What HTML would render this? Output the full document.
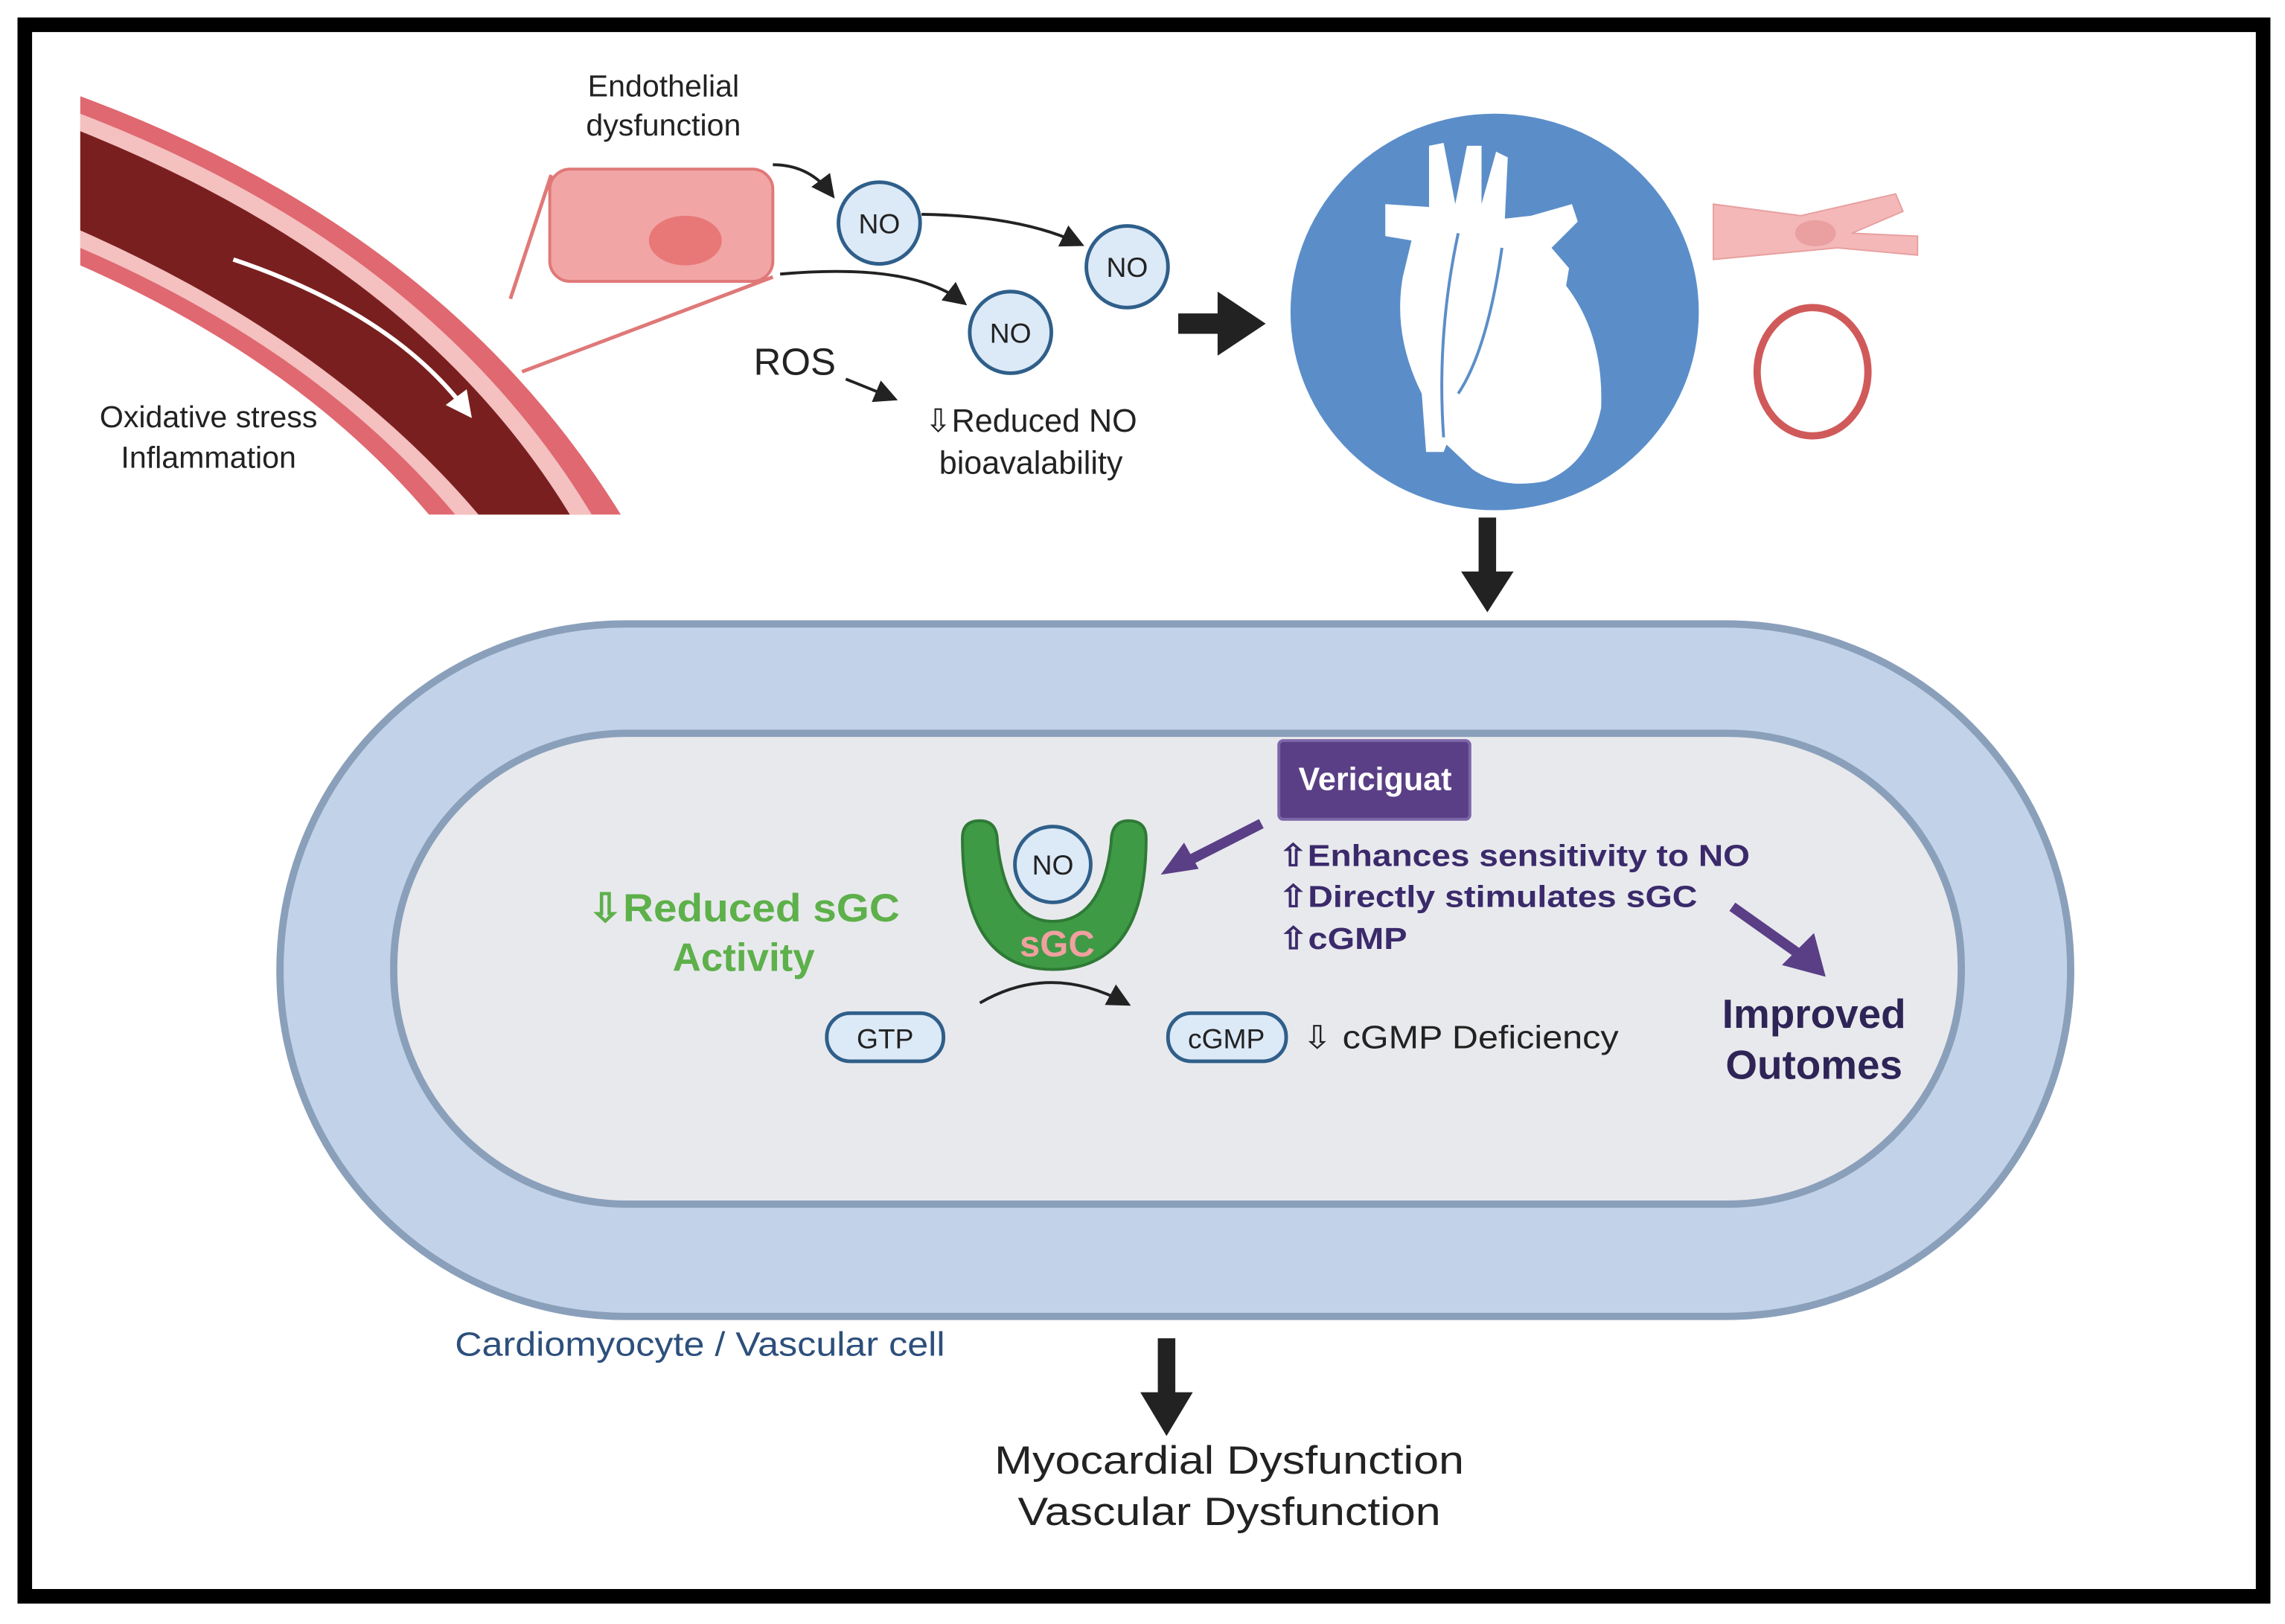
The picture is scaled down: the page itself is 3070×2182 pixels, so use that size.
<!DOCTYPE html>
<html><head><meta charset="utf-8"><style>
html,body{margin:0;padding:0;background:#fff}
svg{display:block}
text{font-family:"Liberation Sans",sans-serif}
</style></head><body>
<svg width="3070" height="2182" viewBox="0 0 1567 1114" preserveAspectRatio="none" xmlns="http://www.w3.org/2000/svg">
<defs>
<marker id="ah" markerWidth="8" markerHeight="8" refX="6" refY="4" orient="auto" markerUnits="strokeWidth"><path d="M0,0 L8,4 L0,8 Z" fill="#222"/></marker>
<marker id="ahw" markerWidth="6" markerHeight="6" refX="4" refY="3" orient="auto" markerUnits="strokeWidth"><path d="M0,0 L6,3 L0,6 Z" fill="#fff"/></marker>
</defs>
<rect x="0" y="0" width="1567" height="1114" fill="#fff"/>
<rect x="17" y="17" width="1535" height="1078" fill="none" stroke="#000" stroke-width="10"/>

<!-- vessel -->
<clipPath id="vc"><rect x="55" y="60" width="375" height="293"/></clipPath>
<g clip-path="url(#vc)">
<path d="M55,66 Q310,160 430,360 L300,360 Q210,250 55,182 Z" fill="#e06870"/>
<path d="M55,78 Q300,172 410,360 L318,360 Q222,242 55,170 Z" fill="#f4c0c0"/>
<path d="M55,90 Q292,185 395,360 L334,360 Q232,236 55,158 Z" fill="#7a1f1f"/>
</g>
<path d="M160,178 Q270,215 320,282" fill="none" stroke="#fff" stroke-width="3" marker-end="url(#ahw)"/>
<text x="143" y="293" font-size="21" text-anchor="middle" fill="#222">Oxidative stress</text>
<text x="143" y="321" font-size="21" text-anchor="middle" fill="#222">Inflammation</text>

<!-- zoom lines and cell -->
<line x1="350" y1="205" x2="378" y2="120" stroke="#e07878" stroke-width="2.5"/>
<line x1="358" y1="255" x2="530" y2="190" stroke="#e07878" stroke-width="2.5"/>
<rect x="377" y="116" width="153" height="77" rx="14" fill="#f2a5a5" stroke="#e07878" stroke-width="2"/>
<ellipse cx="470" cy="165" rx="25" ry="17" fill="#e87878"/>
<text x="455" y="66" font-size="21" text-anchor="middle" fill="#222">Endothelial</text>
<text x="455" y="93" font-size="21" text-anchor="middle" fill="#222">dysfunction</text>

<!-- NO arrows -->
<path d="M530,113 Q555,113 570,133" fill="none" stroke="#222" stroke-width="2" marker-end="url(#ah)"/>
<path d="M632,147 Q700,148 740,167" fill="none" stroke="#222" stroke-width="2" marker-end="url(#ah)"/>
<path d="M535,188 Q625,180 660,207" fill="none" stroke="#222" stroke-width="2" marker-end="url(#ah)"/>
<g fill="#dce9f7" stroke="#2f5f8a" stroke-width="2.5">
<circle cx="603" cy="153" r="28"/><circle cx="773" cy="183" r="28"/><circle cx="693" cy="228" r="28"/>
</g>
<g font-size="19" text-anchor="middle" fill="#222">
<text x="603" y="160">NO</text><text x="773" y="190">NO</text><text x="693" y="235">NO</text>
</g>
<text x="545" y="257" font-size="26" text-anchor="middle" fill="#222">ROS</text>
<path d="M580,260 Q600,268 612,273" fill="none" stroke="#222" stroke-width="2" marker-end="url(#ah)"/>
<text x="707" y="296" font-size="22" text-anchor="middle" fill="#222">⇩Reduced NO</text>
<text x="707" y="325" font-size="22" text-anchor="middle" fill="#222">bioavalability</text>

<!-- big arrow right -->
<path d="M808,215 L835,215 L835,200 L868,222 L835,244 L835,229 L808,229 Z" fill="#222"/>

<!-- heart circle -->
<ellipse cx="1025" cy="214" rx="140" ry="136" fill="#5b8ec9"/>
<path d="M980,100 L990,98 L998,140 L1006,100 L1016,100 L1016,140 L1026,104 L1034,108 L1032,150 L1050,148 L1078,140 L1082,152 L1064,170 L1076,184 L1074,196 Q1100,230 1098,280 Q1090,318 1060,330 Q1030,336 1010,322 L992,305 L990,310 L978,310 L975,270 Q955,230 962,190 L968,165 L950,162 L950,140 L980,142 Z" fill="#fff"/>
<path d="M1000,160 Q985,230 990,300 M1030,170 Q1020,240 1000,270" fill="none" stroke="#5b8ec9" stroke-width="2"/>

<!-- myocyte & vessel ring -->
<path d="M1175,140 L1235,148 L1300,133 L1305,145 L1270,160 L1315,162 L1315,175 L1260,170 L1175,178 Z" fill="#f4b8b8" stroke="#e8a0a0" stroke-width="1"/>
<ellipse cx="1245" cy="160" rx="14" ry="9" fill="#eaa0a0"/>
<ellipse cx="1243" cy="255" rx="38" ry="44" fill="none" stroke="#d05a5a" stroke-width="5"/>

<!-- down arrow -->
<path d="M1014,355 L1026,355 L1026,392 L1038,392 L1020,420 L1002,392 L1014,392 Z" fill="#222"/>

<!-- capsule -->
<rect x="192" y="428" width="1228" height="475" rx="237" fill="#c2d3e9" stroke="#8a9fba" stroke-width="5"/>
<rect x="270" y="503" width="1075" height="323" rx="160" fill="#e8e9ed" stroke="#8a9fba" stroke-width="5"/>

<!-- vericiguat -->
<rect x="877" y="508" width="131" height="54" rx="3" fill="#5a3f86" stroke="#7d66a8" stroke-width="2"/>
<text x="943" y="542" font-size="22" font-weight="bold" text-anchor="middle" fill="#fff">Vericiguat</text>
<g font-size="21" font-weight="bold" fill="#3b2a6b">
<text x="877" y="594" textLength="323" lengthAdjust="spacingAndGlyphs">⇧Enhances sensitivity to NO</text>
<text x="877" y="622" textLength="287" lengthAdjust="spacingAndGlyphs">⇧Directly stimulates sGC</text>
<text x="877" y="651" textLength="88" lengthAdjust="spacingAndGlyphs">⇧cGMP</text>
</g>
<line x1="865" y1="565" x2="810" y2="593" stroke="#5a3f86" stroke-width="7"/>
<path d="M796,600 L812,578 L822,596 Z" fill="#5a3f86"/>
<line x1="1188" y1="622" x2="1236" y2="656" stroke="#5a3f86" stroke-width="7"/>
<path d="M1252,670 L1222,662 L1244,640 Z" fill="#5a3f86"/>
<text x="1244" y="705" font-size="28" font-weight="bold" text-anchor="middle" fill="#2e2456">Improved</text>
<text x="1244" y="740" font-size="28" font-weight="bold" text-anchor="middle" fill="#2e2456">Outomes</text>

<!-- sGC -->
<path d="M660,575 Q660,563 672,563 Q684,563 684,578 Q690,632 722,632 Q756,632 762,578 Q762,563 774,563 Q786,563 786,575 Q786,665 722,665 Q660,665 660,575 Z" fill="#3e9a45" stroke="#2f7a36" stroke-width="2"/>
<circle cx="722" cy="593" r="26" fill="#dce9f7" stroke="#2f5f8a" stroke-width="2.5"/>
<text x="722" y="600" font-size="19" text-anchor="middle" fill="#222">NO</text>
<text x="725" y="656" font-size="25" font-weight="bold" text-anchor="middle" fill="#f0a0a0">sGC</text>
<text x="510" y="632" font-size="27" font-weight="bold" text-anchor="middle" fill="#5db04a" textLength="214" lengthAdjust="spacingAndGlyphs">⇩Reduced sGC</text>
<text x="510" y="666" font-size="27" font-weight="bold" text-anchor="middle" fill="#5db04a">Activity</text>

<path d="M672,688 Q720,660 772,688" fill="none" stroke="#222" stroke-width="2" marker-end="url(#ah)"/>
<rect x="567" y="695" width="80" height="33" rx="16" fill="#dce9f7" stroke="#2f5f8a" stroke-width="2.5"/>
<text x="607" y="719" font-size="19" text-anchor="middle" fill="#222">GTP</text>
<rect x="801" y="695" width="81" height="33" rx="16" fill="#dce9f7" stroke="#2f5f8a" stroke-width="2.5"/>
<text x="841" y="719" font-size="19" text-anchor="middle" fill="#222">cGMP</text>
<text x="893" y="719" font-size="22" fill="#222" textLength="217" lengthAdjust="spacingAndGlyphs">⇩ cGMP Deficiency</text>

<text x="480" y="930" font-size="23" text-anchor="middle" fill="#2d4f7c" textLength="336" lengthAdjust="spacingAndGlyphs">Cardiomyocyte / Vascular cell</text>
<path d="M794,918 L806,918 L806,955 L818,955 L800,985 L782,955 L794,955 Z" fill="#222"/>
<text x="843" y="1011" font-size="27" text-anchor="middle" fill="#222" textLength="322" lengthAdjust="spacingAndGlyphs">Myocardial Dysfunction</text>
<text x="843" y="1046" font-size="27" text-anchor="middle" fill="#222" textLength="290" lengthAdjust="spacingAndGlyphs">Vascular Dysfunction</text>
</svg>
</body></html>
